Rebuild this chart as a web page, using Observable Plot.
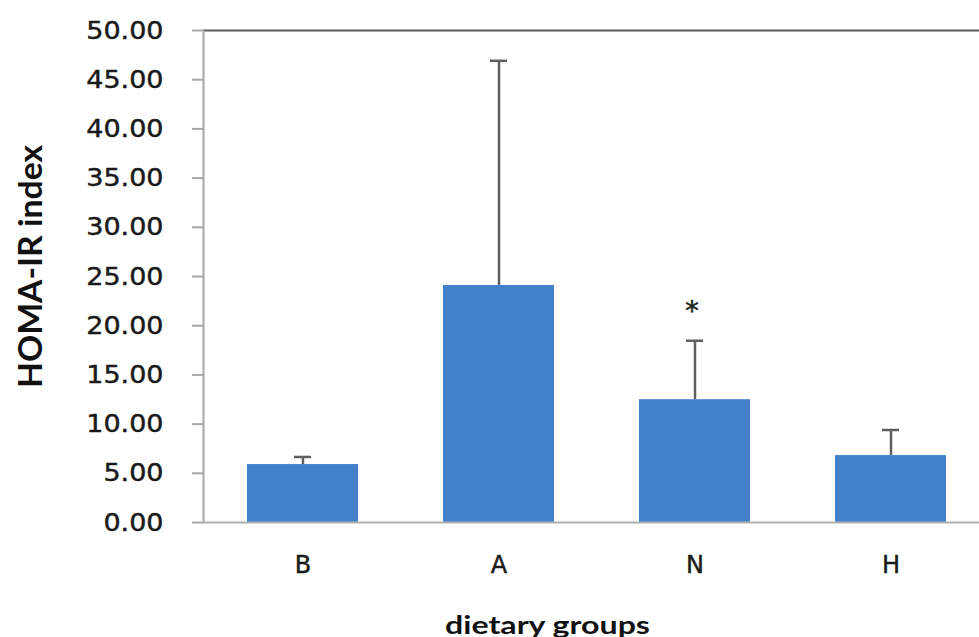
<!DOCTYPE html>
<html><head><meta charset="utf-8">
<script src="https://cdn.jsdelivr.net/npm/d3@7"></script>
<script src="https://cdn.jsdelivr.net/npm/@observablehq/plot@0.6"></script>
<style>
html,body{margin:0;padding:0;background:#fff;overflow:hidden;}
#chart svg{display:block;overflow:hidden;}
</style>
</head><body><div id="chart"></div>
<script>
// ---- data ----
const groups = ["B", "A", "N", "H"];
const means = [5.89, 24.09, 12.48, 6.80];
const upperErrors = [6.66, 46.92, 18.47, 9.40];
const yTicks = [0, 5, 10, 15, 20, 25, 30, 35, 40, 45, 50];
const yTickLabels = ["0.00", "5.00", "10.00", "15.00", "20.00", "25.00", "30.00", "35.00", "40.00", "45.00", "50.00"];
const sigGroups = ["N"];
const sigLabels = ["*"];
const sigY = [21.5];
const yLabel = "HOMA-IR index";
const xLabel = "dietary groups";

const data = groups.map((g, i) => ({group: g, mean: means[i], upper: upperErrors[i]}));
const significance = sigGroups.map((g, i) => ({group: g, label: sigLabels[i], y: sigY[i]}));
const tickLabel = new Map(yTicks.map((t, i) => [t, yTickLabels[i]]));

const chart = Plot.plot({
  width: 979,
  height: 637,
  marginTop: 30,
  marginBottom: 115,
  marginLeft: 203,
  marginRight: 0,
  style: {background: "#fff", color: "#1f1f1f", fontFamily: "DejaVu Sans"},
  x: {domain: groups, range: [203, 990], paddingInner: 0.433, paddingOuter: 0.22, label: null},
  y: {domain: [0, 50], label: null},
  marks: [
    Plot.barY(data, {x: "group", y: "mean", fill: "#4281CA"}),
    Plot.ruleX(data, {x: "group", y1: "mean", y2: "upper", stroke: "#5e5e5e", strokeWidth: 2.5}),
    Plot.tickY(data, {x: "group", y: "upper", stroke: "#5e5e5e", strokeWidth: 2.5, insetLeft: 47, insetRight: 47}),
    Plot.text(significance, {x: "group", y: "y", text: "label", fontSize: 27, dx: -3, fill: "#1f1f1f", stroke: "#1f1f1f", strokeWidth: 0.6}),
    Plot.ruleY([50], {stroke: "#5a5a5a", strokeWidth: 2}),
    Plot.frame({anchor: "left", stroke: "#a6a6a6", strokeWidth: 2}),
    Plot.ruleY([0], {stroke: "#b0b0b0", strokeWidth: 2}),
    Plot.axisY({ticks: yTicks, tickFormat: d => tickLabel.get(d), tickSize: 11, tickPadding: 29, fontSize: 25, stroke: "#a6a6a6", strokeWidth: 2, fill: "#1a1a1a", textStroke: "#1a1a1a", textStrokeWidth: 0.45, label: null}),
    Plot.axisX({tickSize: 0, tickPadding: 33, fontSize: 24, fill: "#1a1a1a", textStroke: "#1a1a1a", textStrokeWidth: 0.45, label: null})
  ]
});
document.getElementById("chart").appendChild(chart);

const svg = d3.select(chart);
svg.selectAll('g[aria-label="y-axis tick label"] text').each(function () {
  const l = this.getComputedTextLength();
  this.setAttribute("textLength", l * 1.08);
  this.setAttribute("lengthAdjust", "spacingAndGlyphs");
});

svg.append("text")
  .attr("transform", "translate(41.5,266.5) rotate(-90)")
  .attr("text-anchor", "middle")
  .attr("font-family", "Lato")
  .attr("font-weight", "bold")
  .attr("font-size", 33)
  .attr("textLength", 243)
  .attr("lengthAdjust", "spacingAndGlyphs")
  .attr("fill", "#111")
  .text(yLabel);

svg.append("text")
  .attr("x", 547.5)
  .attr("y", 634)
  .attr("text-anchor", "middle")
  .attr("font-family", "Lato")
  .attr("font-weight", "bold")
  .attr("font-size", 25)
  .attr("textLength", 205)
  .attr("lengthAdjust", "spacingAndGlyphs")
  .attr("fill", "#111")
  .text(xLabel);
</script>
</body></html>
